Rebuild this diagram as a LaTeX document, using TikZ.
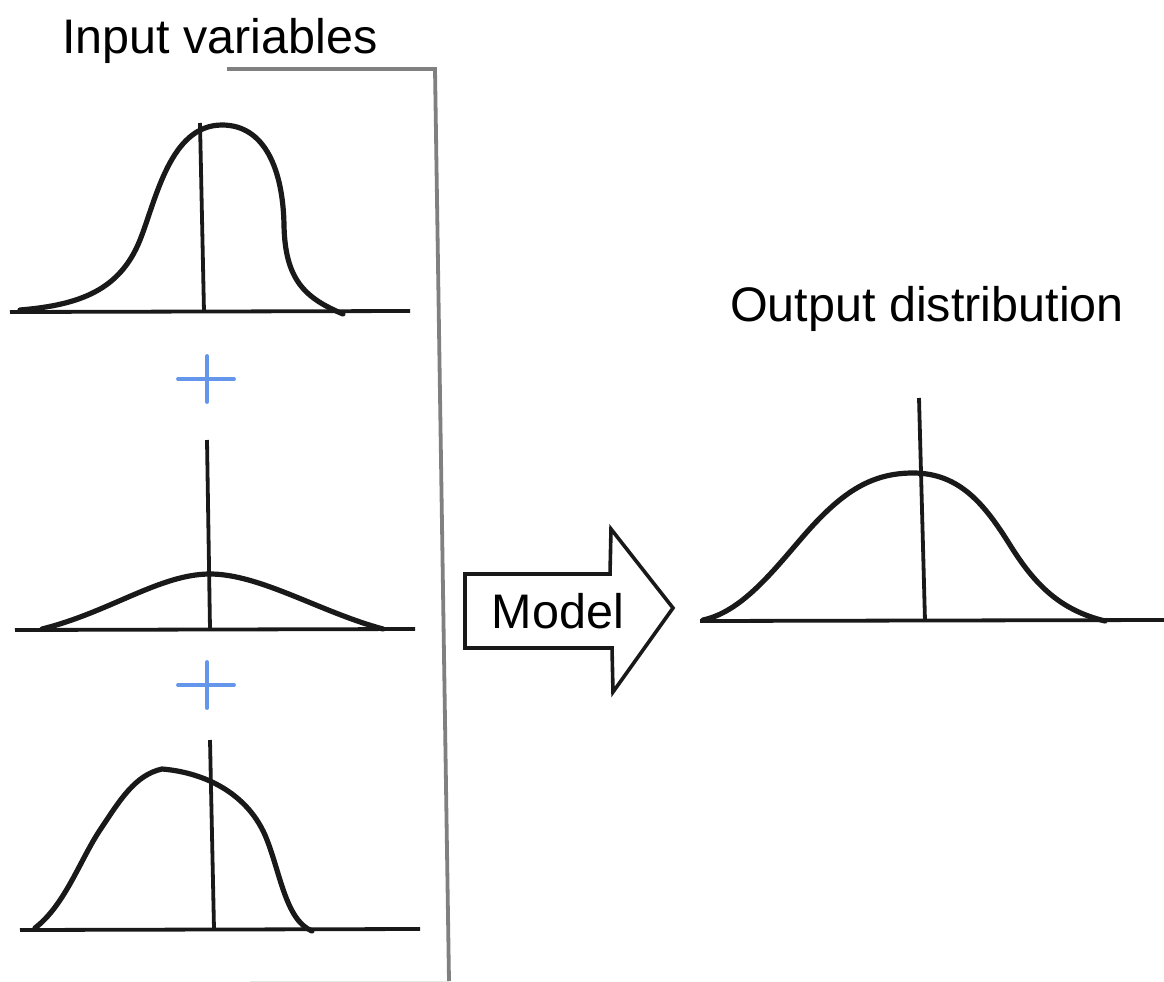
\documentclass[tikz,border=0pt]{standalone}
\usepackage{fontspec}
\setmainfont{Liberation Sans}
\definecolor{plusblue}{RGB}{100,150,235}
\definecolor{ink}{RGB}{25,25,25}
\begin{document}
\begin{tikzpicture}[x=1pt,y=-1pt,
  curve/.style={line width=5.2pt,color=ink,line join=round,line cap=round},
  axis/.style={line width=3.8pt,color=ink},
  bracket/.style={line width=3.8pt,color=black!50},
  plussign/.style={line width=3.8pt,color=plusblue,line cap=round},
  label/.style={font=\fontsize{48.5}{56}\selectfont,anchor=base,inner sep=0pt}]
\useasboundingbox (0,0) rectangle (1164,982);
% titles
\node[label] (inp) at (220,53) {Input variables};
\node[label] (out) at (927,321) {Output distribution};
% bracket
\coordinate (bA) at (227,69);
\coordinate (bB) at (435,69);
\coordinate (bC) at (449,981);
\draw[bracket] (bA) -- (bB) -- (bC);
\draw[line width=1pt,color=black!10] (250,981) -- (bC);
% curve 1
\draw[axis] (10,312) -- (410,311);
\draw[axis] (200,123) -- (204,312);
\draw[curve] (20,310) .. controls (80,305) and (120,290) .. (140,240)
  .. controls (156,200) and (170,125) .. (222,125)
  .. controls (265,125) and (283,170) .. (284,225)
  .. controls (285,280) and (305,298) .. (343,314);
% plus 1
\draw[plussign] (178,379) -- (234,379);
\draw[plussign] (207,356) -- (207,402);
% curve 2
\draw[axis] (15,630) -- (415,629);
\draw[axis] (207,440) -- (210,629);
\draw[curve] (42,629) .. controls (110,612) and (160,574) .. (210,574)
  .. controls (260,574) and (320,612) .. (383,629);
% plus 2
\draw[plussign] (178,685) -- (234,685);
\draw[plussign] (207,662) -- (207,708);
% curve 3
\draw[axis] (20,930) -- (420,929);
\draw[axis] (210,740) -- (214,929);
\draw[curve] (35,928) .. controls (65,905) and (80,860) .. (100,830)
  .. controls (120,800) and (135,775) .. (162,769)
  .. controls (200,772) and (245,790) .. (265,835)
  .. controls (280,870) and (285,920) .. (312,931);
% arrow
\draw[line width=3.6pt,color=ink,line join=miter] (465,574) -- (610,574) -- (611,529) -- (673,608) -- (613,692) -- (612,648) -- (465,648) -- cycle;
\node[label] (model) at (558,628) {Model};
% curve 4
\draw[axis] (700,621) -- (1164,620);
\draw[axis] (919,398) -- (925,621);
\draw[curve] (703,620) .. controls (740,612) and (770,575) .. (800,540)
  .. controls (840,493) and (870,473) .. (913,473)
  .. controls (960,473) and (985,505) .. (1010,545)
  .. controls (1035,585) and (1060,610) .. (1105,621);
\end{tikzpicture}
\end{document}
